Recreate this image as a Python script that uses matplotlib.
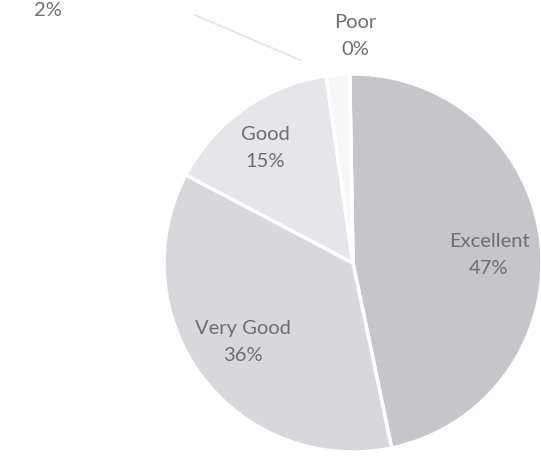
import matplotlib
matplotlib.use('Agg')
import matplotlib.pyplot as plt

# Survey rating shares (percent)
categories = ['Excellent', 'Very Good', 'Good', 'Fair', 'Poor']
values = [47, 36, 15, 2, 0]
colors = ['#c6c6ca', '#d8d8dc', '#e6e6ea', '#f7f7f7', '#ffffff']

# label positions in pixel space (x, y from top); the "Fair" name is cut off in the scan
label_pos = {
    'Excellent': (489, 255),
    'Very Good': (243, 342),
    'Good': (265, 148),
    'Fair': (48, 11),
    'Poor': (355, 36),
}

W, H = 541, 458
fig = plt.figure(figsize=(W / 100, H / 100), dpi=100)
ax = fig.add_axes([0, 0, 1, 1])

ax.pie(values, colors=colors, startangle=91, counterclock=False,
       center=(353, H - 263), radius=189, frame=True,
       wedgeprops=dict(edgecolor='white', linewidth=2.5))
ax.set_xlim(0, W)
ax.set_ylim(0, H)
ax.set_aspect('equal')
ax.axis('off')

# leader line for the small slice
ax.plot([195, 300], [H - 15, H - 60], color='#e4e4e4', lw=1.2)

for cat, val in zip(categories, values):
    x, y = label_pos[cat]
    txt = f'{val}%' if cat == 'Fair' else f'{cat}\n{val}%'
    ax.text(x, H - y, txt, ha='center', va='center',
            fontsize=14.5, family='Lato', color='#6e6e6e', linespacing=1.75)

fig.savefig('out.png', dpi=100)
